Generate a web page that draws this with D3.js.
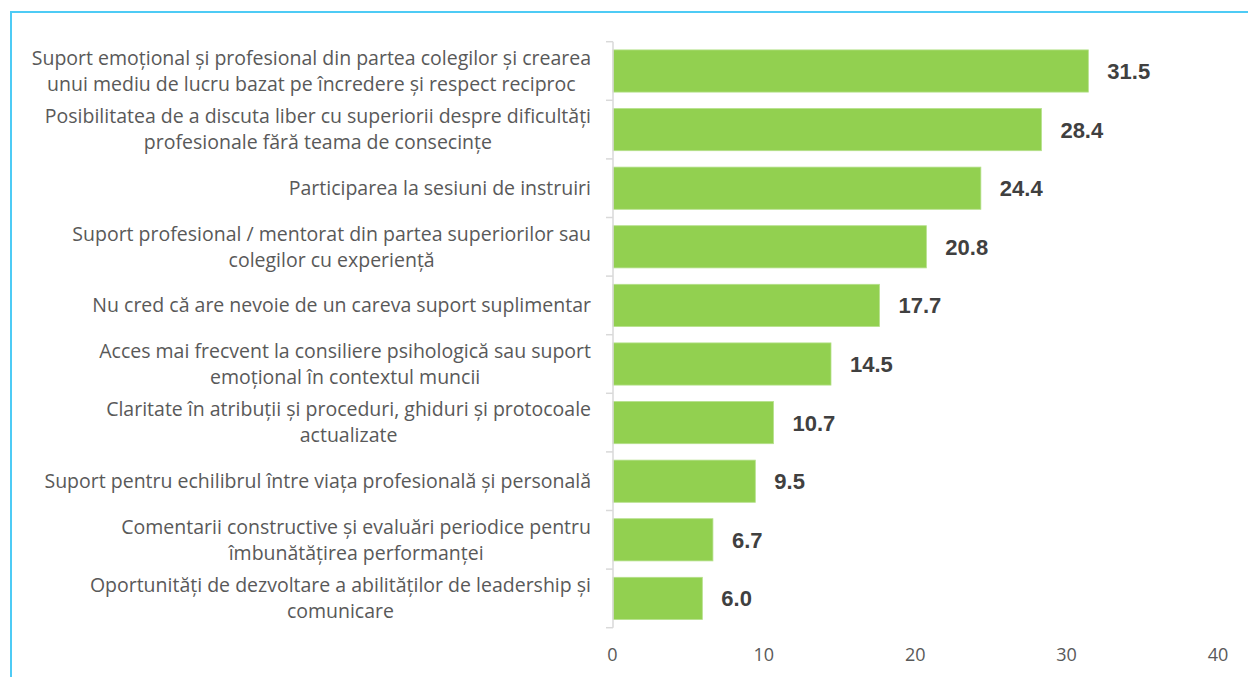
<!DOCTYPE html>
<html>
<head>
<meta charset="utf-8">
<script src="https://cdn.jsdelivr.net/npm/d3@7"></script>
<style>
  html, body { margin: 0; padding: 0; background: #ffffff; }
  svg { display: block; }
</style>
</head>
<body>
<svg id="chart" width="1248" height="677"></svg>
<script>
// Category labels, one entry per line of each wrapped label
const categories = [
  ["Suport emoțional și profesional din partea colegilor și crearea", "unui mediu de lucru bazat pe încredere și respect reciproc"],
  ["Posibilitatea de a discuta liber cu superiorii despre dificultăți ", "profesionale fără teama de consecințe"],
  ["Participarea la sesiuni de instruiri"],
  ["Suport profesional / mentorat din partea superiorilor sau", "colegilor cu experiență"],
  ["Nu cred că are nevoie de un careva suport suplimentar"],
  ["Acces mai frecvent la consiliere psihologică sau suport ", "emoțional în contextul muncii"],
  ["Claritate în atribuții și proceduri, ghiduri și protocoale", "actualizate"],
  ["Suport pentru echilibrul între viața profesională și personală"],
  ["Comentarii constructive și evaluări periodice pentru", "îmbunătățirea performanței"],
  ["Oportunități de dezvoltare a abilităților de leadership și", "comunicare"]
];
const values = [31.5, 28.4, 24.4, 20.8, 17.7, 14.5, 10.7, 9.5, 6.7, 6.0];
const xTicks = [0, 10, 20, 30, 40];

const svg = d3.select("#chart");
const labelFont = "'Open Sans', Inter, sans-serif";

// frame lines along the top and left
svg.append("line").attr("x1", 11).attr("x2", 1248).attr("y1", 12).attr("y2", 12)
  .attr("stroke", "#4ecbf5").attr("stroke-width", 2);
svg.append("line").attr("x1", 11).attr("x2", 11).attr("y1", 11).attr("y2", 677)
  .attr("stroke", "#4ecbf5").attr("stroke-width", 2);

const x = d3.scaleLinear().domain([0, 40]).range([611.5, 1217]);
const y = d3.scaleBand().domain(d3.range(values.length)).range([41.7, 627.7])
  .paddingInner(0.28).paddingOuter(0.14);
const axisX = x(0) + 1.5;

// bars
svg.append("g").selectAll("rect").data(values).join("rect")
  .attr("x", axisX)
  .attr("y", (d, i) => y(i))
  .attr("width", d => x(d) - axisX)
  .attr("height", y.bandwidth())
  .attr("fill", "#92d050")
  .attr("stroke", "#b5e08a")
  .attr("stroke-width", 0.8);

// vertical category axis with tick marks at band boundaries
const axisG = svg.append("g");
axisG.append("line")
  .attr("x1", axisX).attr("x2", axisX)
  .attr("y1", y.range()[0]).attr("y2", y.range()[1])
  .attr("stroke", "#d9d9d9").attr("stroke-width", 1.5);
const boundaries = d3.range(values.length + 1).map(i => y.range()[0] + i * y.step());
axisG.selectAll("line.tick").data(boundaries).join("line")
  .attr("class", "tick")
  .attr("x1", axisX - 7).attr("x2", axisX)
  .attr("y1", d => d).attr("y2", d => d)
  .attr("stroke", "#d9d9d9").attr("stroke-width", 1.5);

// value labels
svg.append("g").selectAll("text").data(values).join("text")
  .attr("x", d => x(d) + 19)
  .attr("y", (d, i) => y(i) + y.bandwidth() / 2)
  .attr("dy", "0.36em")
  .attr("font-family", "'Liberation Sans', Arial, sans-serif")
  .attr("font-weight", "bold")
  .attr("font-size", 22)
  .attr("fill", "#404040")
  .text(d => d.toFixed(1));

// category labels: block right-aligned against the axis, lines centred within it
const labelRight = 591;
const lineH = 26;
const labG = svg.append("g");
categories.forEach((lines, i) => {
  const cy = y(i) + y.bandwidth() / 2;
  const g = labG.append("g");
  const texts = lines.map((ln, k) => g.append("text")
    .attr("font-family", labelFont)
    .attr("font-size", 19.5)
    .attr("fill", "#595959")
    .attr("text-anchor", "middle")
    .attr("y", cy + (k - (lines.length - 1) / 2) * lineH)
    .attr("dy", "0.35em")
    .text(ln));
  const w = d3.max(texts, t => t.node().getComputedTextLength());
  texts.forEach(t => t.attr("x", labelRight - w / 2));
});

// value axis tick labels
svg.append("g").selectAll("text").data(xTicks).join("text")
  .attr("x", d => x(d) + 1)
  .attr("y", 655)
  .attr("dy", "0.35em")
  .attr("text-anchor", "middle")
  .attr("font-family", labelFont)
  .attr("font-size", 18)
  .attr("fill", "#595959")
  .text(d => d);
</script>
</body>
</html>
